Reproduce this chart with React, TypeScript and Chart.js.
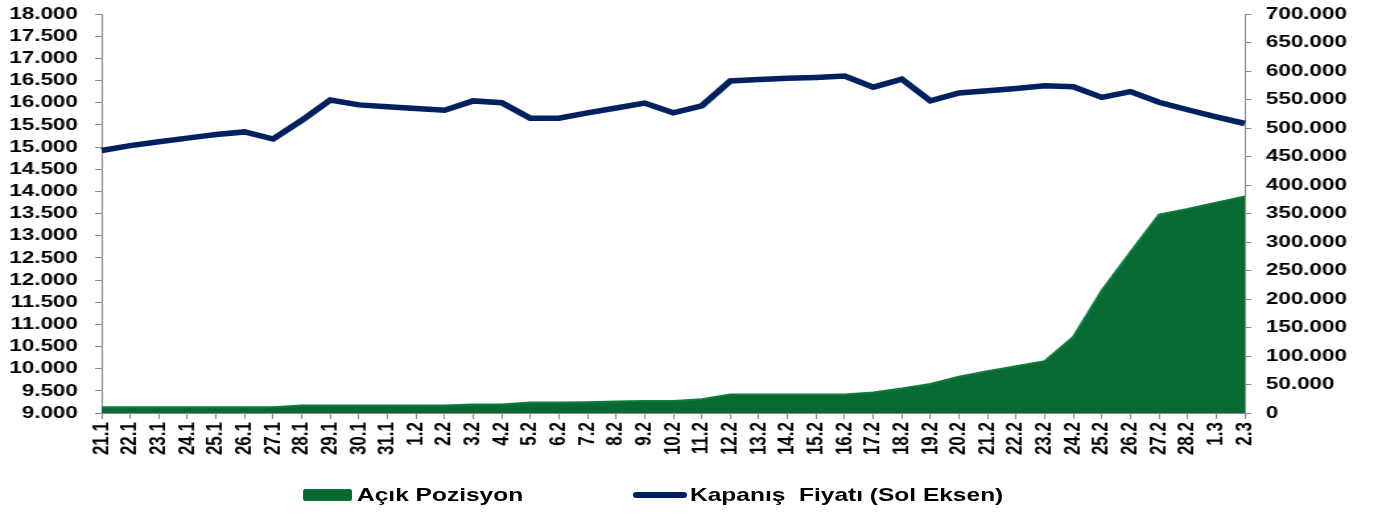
import React, { useEffect, useRef } from "react";
import { Chart, registerables } from "chart.js";

Chart.register(...registerables);

const dateLabels: string[] = [
  "21.1", "22.1", "23.1", "24.1", "25.1", "26.1", "27.1", "28.1", "29.1", "30.1", "31.1",
  "1.2", "2.2", "3.2", "4.2", "5.2", "6.2", "7.2", "8.2", "9.2", "10.2", "11.2", "12.2",
  "13.2", "14.2", "15.2", "16.2", "17.2", "18.2", "19.2", "20.2", "21.2", "22.2", "23.2",
  "24.2", "25.2", "26.2", "27.2", "28.2", "1.3", "2.3",
];

const closingPrice: number[] = [
  14920, 15030, 15120, 15200, 15280, 15340, 15180, 15600, 16060, 15950, 15910,
  15870, 15830, 16040, 16000, 15650, 15650, 15770, 15880, 15990, 15770, 15930, 16490,
  16520, 16550, 16570, 16600, 16350, 16530, 16040, 16220, 16270, 16320, 16380,
  16360, 16120, 16250, 16010, 15840, 15680, 15530,
];

const openPosition: number[] = [
  10000, 10000, 10000, 10000, 10000, 10000, 10000, 13000, 13000, 13000, 13000,
  13000, 13000, 15000, 15000, 18500, 18500, 19000, 20000, 21000, 21000, 24000, 32500,
  32500, 32500, 32500, 32500, 36000, 43000, 51000, 63500, 73500, 82000, 91000,
  133500, 215000, 282000, 348000, 358000, 369000, 380000,
];

const seriesNames = ["Açık Pozisyon", "Kapanış  Fiyatı (Sol Eksen)"];

const LEFT_MIN = 9000;
const LEFT_MAX = 18000;
const LEFT_STEP = 500;
const RIGHT_MIN = 0;
const RIGHT_MAX = 700000;
const RIGHT_STEP = 50000;

const GREEN_FILL = "#086a32";
const GREEN_BORDER = "#0b7b3e";
const NAVY = "#002060";
const AXIS_GRAY = "#8a8a8a";

// The reference is horizontally stretched; draw on a narrower canvas and stretch it.
const STRETCH = 1.32;
const SCREEN_W = 1382;
const SCREEN_H = 513;
const CANVAS_W = Math.round(SCREEN_W / STRETCH);

const fmt = (v: number | string) =>
  String(Math.round(Number(v))).replace(/\B(?=(\d{3})+(?!\d))/g, ".");

const tickFont = { family: "'Liberation Sans', Arial, sans-serif", size: 17, weight: "bold" as const };

export default function App() {
  const canvasRef = useRef<HTMLCanvasElement | null>(null);

  useEffect(() => {
    if (!canvasRef.current) return;
    const chart = new Chart(canvasRef.current, {
      type: "line",
      data: {
        labels: dateLabels,
        datasets: [
          {
            label: seriesNames[1],
            data: closingPrice,
            yAxisID: "y",
            borderColor: NAVY,
            backgroundColor: NAVY,
            borderWidth: 5.5,
            pointRadius: 0,
            fill: false,
            tension: 0,
            order: 0,
          },
          {
            label: seriesNames[0],
            data: openPosition,
            yAxisID: "y1",
            borderColor: GREEN_BORDER,
            backgroundColor: GREEN_FILL,
            borderWidth: 2,
            pointRadius: 0,
            fill: "origin",
            tension: 0,
            order: 1,
          },
        ],
      },
      options: {
        responsive: false,
        devicePixelRatio: 1,
        animation: false,
        layout: { padding: { top: 14, left: 0, right: 0, bottom: 0 } },
        plugins: {
          legend: { display: false },
          tooltip: { enabled: false },
        },
        scales: {
          x: {
            offset: false,
            grid: { drawOnChartArea: false, drawTicks: true, tickLength: 6, color: AXIS_GRAY },
            border: { color: AXIS_GRAY },
            ticks: {
              autoSkip: false,
              maxRotation: 90,
              minRotation: 90,
              padding: 3,
              color: "#000",
              font: tickFont,
            },
            afterFit: (scale: any) => {
              scale.height = 100;
            },
          },
          y: {
            position: "left",
            min: LEFT_MIN,
            max: LEFT_MAX,
            grid: { drawOnChartArea: false, drawTicks: true, tickLength: 5, color: AXIS_GRAY },
            border: { color: AXIS_GRAY },
            ticks: {
              stepSize: LEFT_STEP,
              autoSkip: false,
              color: "#000",
              font: tickFont,
              padding: 13,
              callback: (v: any) => fmt(v),
            },
            afterFit: (scale: any) => {
              scale.width = Math.round(101 / STRETCH);
              scale.paddingTop = 0;
              scale.paddingBottom = 0;
            },
          },
          y1: {
            position: "right",
            min: RIGHT_MIN,
            max: RIGHT_MAX,
            grid: { drawOnChartArea: false, drawTicks: true, tickLength: 5, color: AXIS_GRAY },
            border: { color: AXIS_GRAY },
            ticks: {
              stepSize: RIGHT_STEP,
              autoSkip: false,
              color: "#000",
              font: tickFont,
              padding: 11,
              callback: (v: any) => fmt(v),
            },
            afterFit: (scale: any) => {
              scale.width = CANVAS_W - Math.round(1245 / STRETCH);
              scale.paddingTop = 0;
              scale.paddingBottom = 0;
            },
          },
        },
      } as any,
    });
    return () => chart.destroy();
  }, []);

  const legendText: React.CSSProperties = {
    position: "absolute",
    top: 484,
    fontFamily: "'Liberation Sans', Arial, sans-serif",
    fontWeight: "bold",
    fontSize: 19,
    lineHeight: "22px",
    color: "#000",
    whiteSpace: "pre",
    transform: "scaleX(1.29)",
    transformOrigin: "left center",
  };

  return (
    <div
      style={{
        position: "fixed",
        left: 0,
        top: 0,
        width: SCREEN_W,
        height: SCREEN_H,
        background: "#fff",
        overflow: "hidden",
      }}
    >
      <canvas
        ref={canvasRef}
        width={CANVAS_W}
        height={SCREEN_H}
        style={{ width: SCREEN_W + "px", height: SCREEN_H + "px", display: "block" }}
      />
      <div
        style={{
          position: "absolute",
          left: 303,
          top: 489,
          width: 49,
          height: 12,
          background: GREEN_FILL,
          border: "1px solid " + GREEN_BORDER,
          borderRadius: 2,
          boxSizing: "border-box",
        }}
      />
      <span style={{ ...legendText, left: 357 }}>{seriesNames[0]}</span>
      <div
        style={{
          position: "absolute",
          left: 633,
          top: 492,
          width: 54,
          height: 6,
          background: NAVY,
          borderRadius: 3,
        }}
      />
      <span style={{ ...legendText, left: 690 }}>{seriesNames[1]}</span>
    </div>
  );
}
